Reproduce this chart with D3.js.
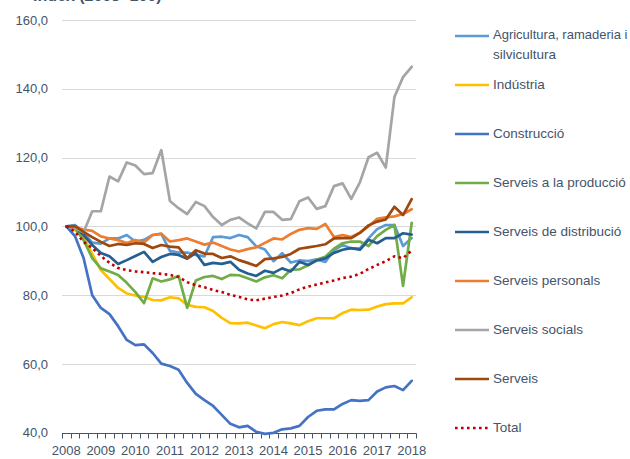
<!DOCTYPE html>
<html>
<head>
<meta charset="utf-8">
<script src="https://cdn.jsdelivr.net/npm/d3@7"></script>
<style>
  html, body { margin: 0; padding: 0; background: #fff; }
  svg { display: block; font-family: "Liberation Sans", Arial, sans-serif; }
</style>
</head>
<body>
<svg id="chart" width="630" height="459"></svg>
<script>
// ---- data ----
const categories = [
  "2008T1","2008T2","2008T3","2008T4","2009T1","2009T2","2009T3","2009T4",
  "2010T1","2010T2","2010T3","2010T4","2011T1","2011T2","2011T3","2011T4",
  "2012T1","2012T2","2012T3","2012T4","2013T1","2013T2","2013T3","2013T4",
  "2014T1","2014T2","2014T3","2014T4","2015T1","2015T2","2015T3","2015T4",
  "2016T1","2016T2","2016T3","2016T4","2017T1","2017T2","2017T3","2017T4",
  "2018T1"
];
const yearTickLabels = ["2008","2009","2010","2011","2012","2013","2014","2015","2016","2017","2018"];
const yTickValues = [40, 60, 80, 100, 120, 140, 160];

const agricultura = [100,100.4,98.1,95.3,95.0,96.5,96.5,97.5,95.6,96.1,97.5,97.8,92.9,92.4,92.4,91.7,91.3,96.9,97.0,96.6,97.5,96.9,94.2,93.3,89.9,92.2,89.5,90.1,89.9,90.4,89.7,93.1,94.6,93.6,93.6,96.5,99.2,100.4,100.4,94.3,96.6];
const industria = [100,99,96.9,92.0,87.3,84.7,82.1,80.5,79.9,79.5,78.6,78.5,79.4,79.1,77.2,76.6,76.5,75.4,73.4,71.9,71.8,72.0,71.2,70.4,71.6,72.2,71.8,71.3,72.4,73.3,73.3,73.3,74.8,75.8,75.7,75.8,76.7,77.4,77.6,77.6,79.4];
const construccio = [100,97.2,90.8,80.0,76.3,74.5,71.0,67.0,65.5,65.7,63.2,60.1,59.4,58.3,54.5,51.3,49.5,47.8,45.2,42.6,41.6,42.0,40.3,39.7,40.0,41.0,41.3,42.0,44.6,46.4,46.8,46.8,48.4,49.5,49.3,49.5,52.0,53.2,53.6,52.4,55.1];
const serveisProduccio = [100,99.5,96.0,90.8,87.8,86.9,85.9,83.6,80.9,77.7,84.9,84.0,84.6,85.6,76.3,84.3,85.3,85.6,84.7,85.9,85.8,84.9,84.0,85.2,85.8,84.9,87.4,87.5,88.7,90.4,91.2,93.5,95.1,95.6,95.6,94.3,97.2,99.0,100.4,82.7,101.0];
const serveisDistribucio = [100,99.8,97.5,94.6,92.3,91.3,89.1,90.2,91.4,92.6,89.7,91.1,92.0,91.7,90.6,92.2,88.8,89.4,89.1,89.7,87.4,86.3,85.6,87.1,86.5,87.8,86.9,89.7,88.8,90.1,90.7,92.3,93.2,93.7,93.2,96.1,95.1,96.6,96.6,98.0,97.6];
const serveisPersonals = [100,99.8,99.1,98.7,97.1,96.5,96.0,95.2,96.0,95.3,97.5,97.9,95.6,96.0,96.5,95.6,94.7,95.3,94.3,93.3,92.7,93.4,93.9,95.2,96.5,96.2,97.8,99.0,99.5,99.3,100.7,96.9,97.5,96.9,98.2,100.0,102.2,102.6,102.9,103.6,105.0];
const serveisSocials = [100,99.5,98.3,104.4,104.4,114.5,113.1,118.6,117.7,115.2,115.5,122.2,107.4,105.3,103.6,107.1,105.9,102.7,100.4,101.9,102.6,100.9,99.4,104.2,104.2,101.9,102.1,107.3,108.4,105.1,105.9,111.7,112.5,108.0,112.8,120.1,121.4,117.1,137.6,143.4,146.4];
const serveis = [100,100.1,98.4,96.9,95.5,94.3,94.9,94.6,95.1,94.9,93.7,94.6,94.1,93.9,90.8,93.1,92.1,92.0,90.8,91.3,90.2,89.4,88.5,90.5,90.7,91.1,92.0,93.5,93.9,94.3,94.8,96.5,96.6,96.6,98.1,100.3,101.4,102.0,105.7,103.3,107.9];
const total = [100,98.5,95.5,93.7,91.4,89.4,87.9,87.3,86.9,86.7,86.4,86.2,85.9,85.3,83.8,82.9,82.3,81.5,80.9,80.1,79.5,78.8,78.5,79.0,79.5,79.9,80.6,81.7,82.5,83.1,83.7,84.3,85.0,85.4,86.2,87.6,88.8,89.9,91.3,90.8,93.0];

const seriesNames = ["Agricultura, ramaderia i silvicultura","Indústria","Construcció","Serveis a la producció","Serveis de distribució","Serveis personals","Serveis socials","Serveis","Total"];
const seriesValues = [agricultura, industria, construccio, serveisProduccio, serveisDistribucio, serveisPersonals, serveisSocials, serveis, total];
const seriesColors = ["#5B9BD5","#FFC000","#4472C4","#70AD47","#255E91","#ED7D31","#A5A5A5","#9E480E","#C00000"];
const titleText = "Índex (2008=100)";

// ---- layout ----
const svg = d3.select("#chart");
const plot = { left: 62, right: 416, top: 20, bottom: 432.8 };
const textColor = "#44546A";

const x = d3.scaleBand().domain(categories).range([plot.left, plot.right]).paddingInner(0).paddingOuter(0);
const y = d3.scaleLinear().domain([40, 160]).range([plot.bottom, plot.top]);

// partial title (cropped at top, as in the reference)
svg.append("text")
  .attr("x", 33).attr("y", 0.5)
  .attr("font-size", 16).attr("font-weight", "bold")
  .attr("fill", textColor)
  .text(titleText);

// gridlines
svg.append("g").selectAll("line")
  .data(yTickValues.filter(v => v > 40))
  .join("line")
  .attr("x1", plot.left).attr("x2", plot.right)
  .attr("y1", d => Math.round(y(d)) + 0.5).attr("y2", d => Math.round(y(d)) + 0.5)
  .attr("stroke", "#D9D9D9").attr("stroke-width", 1);

// y axis labels
const yAxis = d3.axisLeft(y).tickValues(yTickValues).tickSize(0).tickPadding(0)
  .tickFormat(d => d3.format(".1f")(d).replace(".", ","));
const gy = svg.append("g").attr("transform", `translate(48,0)`).call(yAxis);
gy.select(".domain").remove();
gy.selectAll("text").attr("font-size", 13).attr("fill", textColor)
  .attr("font-family", "'Liberation Sans', Arial, sans-serif");

// x axis: ticks at band boundaries
const boundaries = categories.map(c => x(c)).concat([plot.right]);
const gx = svg.append("g");
gx.append("line")
  .attr("x1", plot.left).attr("x2", plot.right + 0.5)
  .attr("y1", Math.round(plot.bottom) + 0.5).attr("y2", Math.round(plot.bottom) + 0.5)
  .attr("stroke", textColor).attr("stroke-width", 1.2);
gx.selectAll("line.tick")
  .data(boundaries)
  .join("line").attr("class", "tick")
  .attr("x1", d => Math.round(d) + 0.5).attr("x2", d => Math.round(d) + 0.5)
  .attr("y1", Math.round(plot.bottom) + 0.5).attr("y2", Math.round(plot.bottom) + 5.5)
  .attr("stroke", textColor).attr("stroke-width", 1);
const labelCats = yearTickLabels.map(yr => yr + "T1");
gx.selectAll("text")
  .data(labelCats)
  .join("text")
  .attr("x", d => x(d) + x.bandwidth() / 2)
  .attr("y", 452)
  .attr("text-anchor", "middle")
  .attr("dominant-baseline", "middle")
  .attr("font-size", 13)
  .attr("fill", textColor)
  .text((d, i) => yearTickLabels[i]);

// lines
const line = d3.line()
  .x((d, i) => x(categories[i]) + x.bandwidth() / 2)
  .y(d => y(d));

const linesG = svg.append("g");
seriesValues.forEach((vals, k) => {
  const p = linesG.append("path")
    .datum(vals)
    .attr("d", line)
    .attr("fill", "none")
    .attr("stroke", seriesColors[k])
    .attr("stroke-linejoin", "round");
  if (k === seriesValues.length - 1) {
    p.attr("stroke-width", 2.6).attr("stroke-dasharray", "2.6,3.4");
  } else {
    p.attr("stroke-width", 2.7).attr("stroke-linecap", "round");
  }
});

// legend
const legendY = [36, 85, 134, 183, 232, 281, 330, 379, 428];
const legend = svg.append("g");
seriesNames.forEach((name, k) => {
  const g = legend.append("g");
  const ly = legendY[k];
  const ln = g.append("line")
    .attr("x1", 455).attr("x2", 489)
    .attr("y1", ly).attr("y2", ly)
    .attr("stroke", seriesColors[k]).attr("stroke-width", 2.6);
  if (k === seriesNames.length - 1) ln.attr("stroke-dasharray", "2.6,3.4");
  if (k === 0) {
    g.append("text")
      .attr("x", 493).attr("y", ly)
      .attr("font-size", 13).attr("fill", textColor)
      .attr("dominant-baseline", "middle")
      .text("Agricultura, ramaderia i");
    g.append("text")
      .attr("x", 493).attr("y", ly + 19)
      .attr("font-size", 13.5).attr("fill", textColor)
      .attr("dominant-baseline", "middle")
      .text("silvicultura");
  } else {
    g.append("text")
      .attr("x", 493).attr("y", ly)
      .attr("font-size", 13.5).attr("fill", textColor)
      .attr("dominant-baseline", "middle")
      .text(name);
  }
});
</script>
</body>
</html>
